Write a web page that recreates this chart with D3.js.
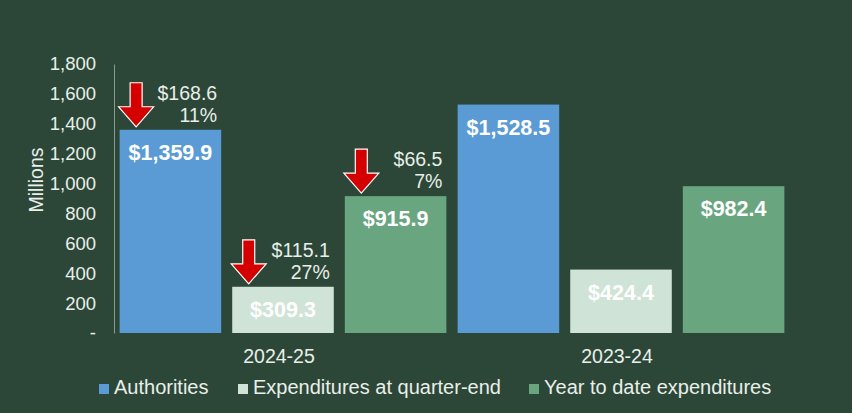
<!DOCTYPE html>
<html><head><meta charset="utf-8">
<script src="https://cdn.jsdelivr.net/npm/d3@7"></script>
<style>
html,body{margin:0;padding:0;background:#2C4737;}
svg{display:block;font-family:Arial,"Liberation Sans",sans-serif;}
</style></head>
<body><svg id="c" width="852" height="413"></svg>
<script>
const years = ["2024-25", "2023-24"];
const seriesNames = ["Authorities", "Expenditures at quarter-end", "Year to date expenditures"];
const values2024 = [1359.9, 309.3, 915.9];
const values2023 = [1528.5, 424.4, 982.4];
const changeAmounts = [168.6, 115.1, 66.5];
const changePercents = ["11%", "27%", "7%"];
const yTicks = [0, 200, 400, 600, 800, 1000, 1200, 1400, 1600, 1800];
const colors = ["#5B9BD5", "#D0E3D7", "#69A680"];

const svg = d3.select("#c");
const txt = "#E9EFEA";
const y = d3.scaleLinear().domain([0, 1800]).range([333, 64]);
const x0 = d3.scaleBand().domain(years).range([114, 790]).paddingInner(0).paddingOuter(0);
const x1 = d3.scaleBand().domain(d3.range(3)).range([0, x0.bandwidth()]).paddingInner(0.098).paddingOuter(0.05);

// y axis
const yAxis = d3.axisLeft(y).tickValues(yTicks).tickSize(0).tickPadding(18)
  .tickFormat(d => d === 0 ? "-" : d3.format(",")(d));
const ga = svg.append("g").attr("transform", "translate(114,0)").call(yAxis);
ga.select(".domain").attr("stroke", "#8A9B90").attr("stroke-width", 1);
ga.selectAll("text").attr("fill", txt).style("font-size", "18.5px").style("font-family", "Arial,'Liberation Sans',sans-serif");

svg.append("text").attr("transform", "translate(43,180) rotate(-90)")
  .attr("text-anchor", "middle").attr("fill", txt).style("font-size", "19.5px").text("Millions");

const data = [values2024, values2023];
years.forEach((yr, gi) => {
  const g = svg.append("g").attr("transform", `translate(${x0(yr)},0)`);
  data[gi].forEach((v, i) => {
    const bx = x1(i), bw = x1.bandwidth(), by = y(v);
    g.append("rect").attr("x", bx).attr("y", by).attr("width", bw).attr("height", y(0) - by).attr("fill", colors[i]);
    g.append("text").attr("x", bx + bw / 2).attr("y", by + 30).attr("text-anchor", "middle")
      .attr("fill", "#FFFFFF").style("font-size", "21.5px").style("font-weight", "bold")
      .text("$" + d3.format(",.1f")(v));
    if (gi === 0) {
      // arrow
      const ax = bx - 1, tip = by - 3, top = by - 47;
      const hw = 35, sw = 12, headH = 20;
      const cx = ax + hw / 2;
      const pts = [[cx - sw / 2, top], [cx + sw / 2, top], [cx + sw / 2, tip - headH], [ax + hw, tip - headH],
        [cx, tip], [ax, tip - headH], [cx - sw / 2, tip - headH]];
      g.append("path").attr("d", "M" + pts.map(p => p.join(",")).join("L") + "Z")
        .attr("fill", "#D40000").attr("stroke", "#FFFFFF").attr("stroke-width", 1.2).attr("stroke-linejoin", "miter");
      const tx = bx + bw - 4;
      g.append("text").attr("x", tx).attr("y", by - 30).attr("text-anchor", "end").attr("fill", txt)
        .style("font-size", "19.5px").text("$" + changeAmounts[i]);
      g.append("text").attr("x", tx).attr("y", by - 8).attr("text-anchor", "end").attr("fill", txt)
        .style("font-size", "19.5px").text(changePercents[i]);
    }
  });
  svg.append("text").attr("x", x0(yr) + x0.bandwidth() / 2 - 4).attr("y", 363).attr("text-anchor", "middle")
    .attr("fill", txt).style("font-size", "19.5px").text(yr);
});

// legend
const legX = [99, 238, 529];
seriesNames.forEach((n, i) => {
  svg.append("rect").attr("x", legX[i]).attr("y", 384).attr("width", 10).attr("height", 10).attr("fill", colors[i]);
  svg.append("text").attr("x", legX[i] + 15).attr("y", 394).attr("fill", txt).style("font-size", "20px").text(n);
});
</script></body></html>
